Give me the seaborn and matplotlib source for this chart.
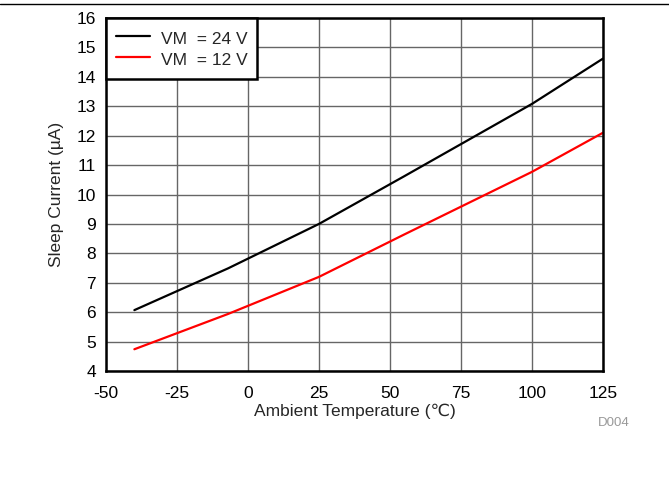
import pandas as pd
import seaborn as sns
import matplotlib.pyplot as plt
from matplotlib.lines import Line2D

# 데이터
temp = [-40, -7, 25, 55, 100, 125]
vm24 = [6.07, 7.49, 9.0, 10.62, 13.08, 14.62]
vm12 = [4.74, 5.94, 7.2, 8.64, 10.77, 12.1]
series_names = ['VM  = 24 V', 'VM  = 12 V']
x_ticks = [-50, -25, 0, 25, 50, 75, 100, 125]
y_ticks = list(range(4, 17))

df = pd.DataFrame({
    'Temp': temp * 2,
    'Current': vm24 + vm12,
    'VM': [series_names[0]] * len(temp) + [series_names[1]] * len(temp),
})

sns.set_style('white')
plt.rcParams['font.family'] = ['Liberation Sans', 'DejaVu Sans']
plt.rcParams['axes.unicode_minus'] = False

fig = plt.figure(figsize=(6.69, 5.03), dpi=100)
ax = fig.add_axes([0.1584, 0.2624, 0.7429, 0.7018])

sns.lineplot(data=df, x='Temp', y='Current', hue='VM',
             palette=['#000000', '#ff0000'], linewidth=1.6, ax=ax)

ax.set_xlim(-50, 125)
ax.set_ylim(4, 16)
ax.set_xticks(x_ticks)
ax.set_yticks(y_ticks)
ax.tick_params(length=0, labelsize=12.5, colors='black')
ax.tick_params(axis='y', pad=7)
ax.tick_params(axis='x', pad=10.5)
ax.grid(True, color='#666666', linewidth=1)
ax.set_axisbelow(True)
for s in ax.spines.values():
    s.set_visible(True)
    s.set_color('black')
    s.set_linewidth(1.8)

ax.set_xlabel('Ambient Temperature (\u2103)', fontsize=12.5, labelpad=2.5)
ax.set_ylabel('Sleep Current (\u00b5A)', fontsize=12.5, labelpad=9)

# 범례
leg = ax.legend(loc='upper left', fontsize=12.5, frameon=True, fancybox=False,
                borderaxespad=0, handlelength=2.0, handleheight=1.45,
                borderpad=0.55, labelspacing=0.02, handletextpad=0.6)
leg.get_frame().set_edgecolor('black')
leg.get_frame().set_linewidth(1.8)
leg.get_frame().set_alpha(1)
leg.set_title(None)

fig.text(0.894, 0.159, 'D004', fontsize=9.5, color='#999999',
         ha='left', va='center')
fig.add_artist(Line2D([0, 1], [0.993, 0.993], color='black', linewidth=1,
                      transform=fig.transFigure))

plt.savefig('out.png', dpi=100)
